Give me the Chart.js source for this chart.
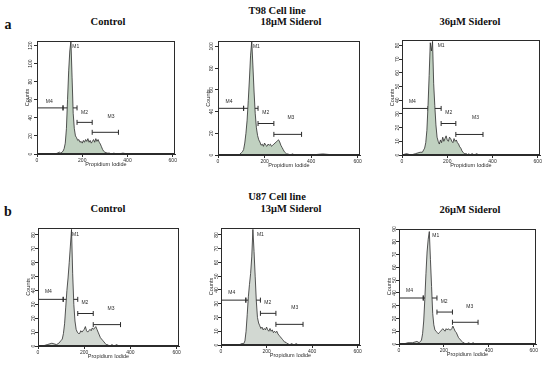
<!DOCTYPE html>
<html>
<head>
<meta charset="utf-8">
<style>
  body { margin: 0; background: #fff; }
  #fig { position: relative; width: 550px; height: 368px; overflow: hidden; font-family: "Liberation Serif", "Times New Roman", serif; }
  #fig canvas { position: absolute; }
  .lbl { position: absolute; transform: translate(-50%, -50%); font-weight: bold; font-size: 10.5px; white-space: nowrap; color: #111; }
  .big { font-size: 14px; }
</style>
</head>
<body>
<div id="fig">
  <div class="lbl" style="left:277px;top:10px">T98 Cell line</div>
  <div class="lbl big" style="left:8px;top:25px">a</div>
  <div class="lbl" style="left:108px;top:21px">Control</div>
  <div class="lbl" style="left:291px;top:21px">18μM Siderol</div>
  <div class="lbl" style="left:470px;top:21px">36μM Siderol</div>

  <div class="lbl" style="left:277px;top:196px">U87 Cell line</div>
  <div class="lbl big" style="left:8px;top:212px">b</div>
  <div class="lbl" style="left:108px;top:208px">Control</div>
  <div class="lbl" style="left:291px;top:208px">13μM Siderol</div>
  <div class="lbl" style="left:470px;top:209px">26μM Siderol</div>
</div>

<script src="https://cdn.jsdelivr.net/npm/chart.js"></script>
<script>
    // channel positions shared by all six histograms
    const bins = [0, 20, 40, 60, 80, 90, 100,
        105, 110, 115, 120, 125, 130, 135, 140, 145, 150, 155, 160, 165, 170, 175, 180, 185, 190, 195, 200,
        205, 210, 215, 220, 225, 230, 235, 240, 245, 250, 255, 260, 265, 270, 275, 280, 285, 290, 295, 300,
        310, 320, 330, 340, 350, 360, 380, 400, 450, 500, 550, 600, 610];

    const t98Control = [0, 0, 0, 0, 0, 1, 2,
        1, 2, 3, 6, 12, 28, 60, 92, 114, 125, 85, 45, 28, 20, 18, 15, 16, 13, 14, 12,
        15, 13, 16, 14, 17, 13, 15, 12, 14, 16, 13, 17, 14, 16, 13, 11, 8, 5, 3, 2,
        1, 1, 0, 1, 0, 0, 1, 0, 0, 0, 0, 0, 0];
    const t98Sid18 = [0, 0, 0, 0, 0, 0, 2,
        3, 5, 11, 20, 32, 50, 70, 92, 105, 82, 58, 38, 25, 18, 14, 12, 9, 10, 8, 11,
        9, 8, 10, 9, 10, 8, 9, 10, 11, 12, 13, 14, 12, 9, 7, 5, 3, 2, 1, 1,
        0, 1, 0, 0, 0, 0, 0, 0, 1, 0, 0, 0, 0];
    const t98Sid36 = [0, 1, 0, 1, 2, 2, 5,
        9, 18, 36, 58, 82, 76, 83, 52, 36, 22, 13, 10, 8, 11, 9, 13, 10, 12, 14, 11,
        10, 13, 12, 10, 9, 12, 10, 11, 9, 8, 6, 5, 3, 2, 1, 1, 1, 0, 1, 0,
        1, 0, 1, 0, 0, 0, 0, 0, 0, 0, 0, 0, 0];
    const u87Control = [0, 0, 1, 2, 1, 2, 4,
        5, 9, 16, 28, 40, 49, 60, 72, 84, 52, 30, 18, 12, 10, 9, 9, 11, 10, 11, 12,
        14, 11, 10, 11, 12, 11, 13, 12, 13, 14, 12, 10, 8, 6, 5, 4, 3, 2, 1, 1,
        0, 1, 0, 1, 0, 0, 0, 0, 0, 0, 0, 0, 0];
    const u87Sid13 = [0, 0, 0, 0, 0, 1, 1,
        3, 10, 22, 35, 44, 52, 64, 84, 68, 50, 32, 20, 16, 14, 12, 13, 11, 12, 11, 13,
        11, 10, 12, 10, 11, 9, 10, 9, 10, 8, 7, 6, 5, 4, 3, 2, 2, 1, 1, 0,
        1, 0, 1, 0, 0, 0, 0, 0, 0, 0, 0, 0, 0];
    const u87Sid26 = [0, 0, 1, 1, 2, 1, 3,
        8, 18, 35, 55, 72, 82, 88, 66, 45, 24, 15, 11, 10, 9, 8, 9, 10, 11, 12, 11,
        10, 12, 11, 12, 11, 11, 12, 14, 12, 10, 9, 7, 5, 4, 3, 2, 1, 1, 0, 0,
        1, 0, 1, 0, 0, 0, 0, 0, 0, 0, 0, 0, 0];

    const xTicks = [0, 200, 400, 600];
    const yTicksT98Control = [0, 20, 40, 60, 80, 100, 120];
    const yTicksT98Sid18 = [0, 20, 40, 60, 80, 100];
    const yTicksT98Sid36 = [0, 10, 20, 30, 40, 50, 60, 70, 80];
    const yTicksU87Control = [0, 10, 20, 30, 40, 50, 60, 70, 80];
    const yTicksU87Sid13 = [0, 10, 20, 30, 40, 50, 60, 70, 80];
    const yTicksU87Sid26 = [0, 10, 20, 30, 40, 50, 60, 70, 80, 90];

    // marker gates: [name, from, to, level]
    const gatesT98Control = [['M4', 0, 115, 51], ['M1', 115, 177, 51], ['M2', 177, 244, 35], ['M3', 244, 360, 24]];
    const gatesT98Sid18 = [['M4', 0, 110, 43], ['M1', 110, 172, 43], ['M2', 172, 240, 29], ['M3', 240, 359, 19]];
    const gatesT98Sid36 = [['M4', 0, 116, 34], ['M1', 116, 173, 34], ['M2', 173, 238, 23], ['M3', 238, 358, 15]];
    const gatesU87Control = [['M4', 0, 109, 33.6], ['M1', 109, 172, 33.6], ['M2', 172, 239, 23.4], ['M3', 239, 357, 15.4]];
    const gatesU87Sid13 = [['M4', 0, 109, 32.6], ['M1', 109, 173, 32.6], ['M2', 173, 241, 23], ['M3', 241, 360, 15]];
    const gatesU87Sid26 = [['M4', 0, 108, 36], ['M1', 108, 169, 36], ['M2', 169, 238, 25], ['M3', 238, 352, 17]];

    // marker names: [name, channel, count]
    const namesT98Control = [['M1', 171, 119], ['M4', 54, 58], ['M2', 210, 46], ['M3', 327, 41]];
    const namesT98Sid18 = [['M1', 165, 100], ['M4', 47, 49], ['M2', 205, 39], ['M3', 313, 34]];
    const namesT98Sid36 = [['M1', 173, 80], ['M4', 46, 39], ['M2', 207, 31], ['M3', 325, 27]];
    const namesU87Control = [['M1', 162, 80], ['M4', 45, 39], ['M2', 203, 31], ['M3', 316, 27]];
    const namesU87Sid13 = [['M1', 173, 80], ['M4', 47, 38], ['M2', 205, 31], ['M3', 324, 27]];
    const namesU87Sid26 = [['M1', 164, 85], ['M4', 47, 42], ['M2', 201, 33], ['M3', 315, 29]];

    const INK = '#2b2b2b';
    const SANS = '"Liberation Sans", Arial, sans-serif';

    const framePlugin = {
        id: 'frame',
        afterDraw(chart) {
            const a = chart.chartArea, c = chart.ctx;
            c.save();
            c.strokeStyle = INK;
            c.lineWidth = 1;
            c.strokeRect(Math.round(a.left) + 0.5, Math.round(a.top) + 0.5,
                Math.round(a.right - a.left) - 1, Math.round(a.bottom - a.top) - 1);
            c.restore();
        }
    };

    const markNamePlugin = {
        id: 'markNames',
        afterDatasetsDraw(chart, args, opts) {
            const c = chart.ctx, sx = chart.scales.x, sy = chart.scales.y;
            c.save();
            c.fillStyle = INK;
            c.font = '5px ' + SANS;
            c.textAlign = 'center';
            c.textBaseline = 'middle';
            (opts.items || []).forEach(m => {
                c.fillText(m[0], sx.getPixelForValue(m[1]), sy.getPixelForValue(m[2]));
            });
            c.restore();
        }
    };

    function makePanel(rect, counts, top, yTicks, gates, names, fill) {
        const [L, T, R, B] = rect;
        const padL = 1, yW = 13, padT = 4, padR = 4, xH = 14, padB = 2;
        const cv = document.createElement('canvas');
        cv.width = R - L + padL + yW + padR;
        cv.height = B - T + padT + xH + padB;
        cv.style.left = (L - padL - yW) + 'px';
        cv.style.top = (T - padT) + 'px';
        document.getElementById('fig').appendChild(cv);

        const datasets = [{
            data: bins.map((x, i) => ({ x: x, y: counts[i] })),
            borderColor: INK,
            borderWidth: 0.8,
            backgroundColor: fill,
            fill: 'origin',
            pointRadius: 0,
            tension: 0
        }];
        gates.forEach(g => {
            datasets.push({
                data: [{ x: g[1], y: g[3] }, { x: g[2], y: g[3] }],
                borderColor: INK,
                borderWidth: 1,
                fill: false,
                pointStyle: 'line',
                rotation: 90,
                pointRadius: 2.5,
                pointBorderColor: INK,
                pointBorderWidth: 1
            });
        });

        new Chart(cv, {
            type: 'line',
            data: { datasets: datasets },
            options: {
                responsive: false,
                animation: false,
                layout: { padding: { left: padL, top: padT, right: padR, bottom: padB } },
                plugins: {
                    legend: { display: false },
                    tooltip: { enabled: false },
                    markNames: { items: names }
                },
                scales: {
                    x: {
                        type: 'linear',
                        min: 0,
                        max: 610,
                        afterBuildTicks: s => { s.ticks = xTicks.map(v => ({ value: v })); },
                        afterFit: s => { s.height = xH; },
                        ticks: { font: { family: SANS, size: 5 }, color: INK, padding: 1, maxRotation: 0, autoSkip: false },
                        grid: { drawOnChartArea: false, tickLength: 3, color: INK },
                        border: { color: INK },
                        title: { display: true, text: 'Propidium Iodide', font: { family: SANS, size: 5.5 }, color: INK, padding: { top: 0, bottom: 0 } }
                    },
                    y: {
                        min: 0,
                        max: top,
                        afterBuildTicks: s => { s.ticks = yTicks.map(v => ({ value: v })); },
                        afterFit: s => { s.width = yW; },
                        ticks: { font: { family: SANS, size: 5 }, color: INK, padding: -1, minRotation: 90, maxRotation: 90, crossAlign: 'center', autoSkip: false },
                        grid: { drawOnChartArea: false, tickLength: 3, color: INK },
                        border: { color: INK },
                        title: { display: true, text: 'Counts', font: { family: SANS, size: 5.5 }, color: INK, padding: { top: 0, bottom: 0 } }
                    }
                }
            },
            plugins: [framePlugin, markNamePlugin]
        });
    }

    const fillTop = '#c0d1c0';
    const fillBottom = '#d2d8d2';
    makePanel([37, 40, 176, 154], t98Control, 125, yTicksT98Control, gatesT98Control, namesT98Control, fillTop);
    makePanel([218, 40, 361, 155], t98Sid18, 105, yTicksT98Sid18, gatesT98Sid18, namesT98Sid18, fillTop);
    makePanel([402, 39, 541, 155], t98Sid36, 84, yTicksT98Sid36, gatesT98Sid36, namesT98Sid36, fillTop);
    makePanel([38, 227, 180, 346], u87Control, 85, yTicksU87Control, gatesU87Control, namesU87Control, fillBottom);
    makePanel([221, 227, 361, 345], u87Sid13, 85, yTicksU87Sid13, gatesU87Sid13, namesU87Sid13, fillBottom);
    makePanel([399, 228, 537, 344], u87Sid26, 90, yTicksU87Sid26, gatesU87Sid26, namesU87Sid26, fillBottom);
</script>
</body>
</html>
